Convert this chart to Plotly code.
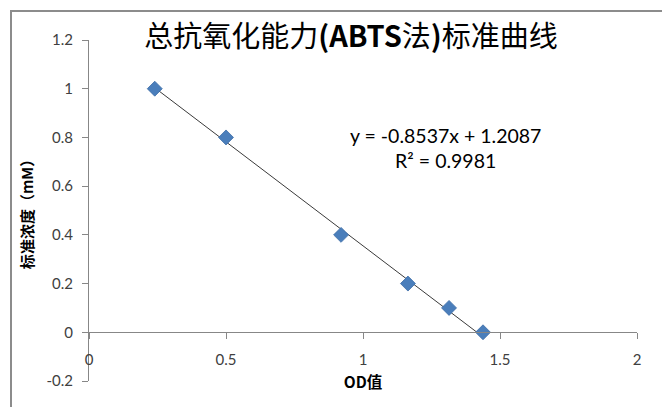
import numpy as np
import plotly.graph_objects as go

# ---- data ----
od_values = [0.24, 0.50, 0.92, 1.164, 1.314, 1.438]
concentration = [1.0, 0.8, 0.4, 0.2, 0.1, 0.0]
slope = -0.8537
intercept = 1.2087
r_squared = 0.9981

x_tickvals = [0, 0.5, 1, 1.5, 2]
x_ticktext = ["0", "0.5", "1", "1.5", "2"]
y_tickvals = [-0.2, 0, 0.2, 0.4, 0.6, 0.8, 1.0, 1.2]
y_ticktext = ["-0.2", "0", "0.2", "0.4", "0.6", "0.8", "1", "1.2"]

title_text = "总抗氧化能力<b>(ABTS</b>法<b>)</b>标准曲线"
x_title = "OD值"
y_title = "标准浓度（mM）"

x_range = [0, 2]
y_range = [-0.2, 1.2]

# trendline over data extent
tx = np.array([min(od_values), max(od_values)])
ty = slope * tx + intercept

# page body has an 8px margin, so the figure is drawn offset by 8px
OFF = 8
W, H = 670 - OFF, 407 - OFF
ml, mt = 89 - OFF, 40 - OFF
mr, mb = W - (637 - OFF), H - (381 - OFF)
pw, ph = W - ml - mr, H - mt - mb

fig = go.Figure()
fig.add_trace(go.Scatter(
    x=tx, y=ty, mode="lines",
    line=dict(color="#3a3a3a", width=1),
    hoverinfo="skip", showlegend=False,
))
fig.add_trace(go.Scatter(
    x=od_values, y=concentration, mode="markers",
    marker=dict(symbol="diamond", size=11.5, color="#4A7EBB",
                line=dict(color="#3C6CA6", width=0.8)),
    showlegend=False,
))

axis_font = dict(family="Lato, 'Noto Sans', sans-serif", size=15, color="#404040")
axis_gray = "#878787"
cjk = "'Noto Sans CJK SC', sans-serif"

fig.update_layout(
    width=W, height=H,
    margin=dict(l=ml, r=mr, t=mt, b=mb, pad=0, autoexpand=False),
    paper_bgcolor="white", plot_bgcolor="white",
    title=dict(text=title_text, x=(351 - OFF) / W, xref="container", xanchor="center",
               y=1 - (37 - OFF) / H, yref="container", yanchor="middle",
               font=dict(family=cjk, size=29, color="#000000")),
    xaxis=dict(
        range=x_range, tickvals=x_tickvals, ticktext=x_ticktext,
        showgrid=False, zeroline=False, showline=True, linecolor=axis_gray, linewidth=1,
        ticks="outside", ticklen=6, tickcolor=axis_gray, tickwidth=1,
        tickfont=axis_font, ticklabelstandoff=8,
        anchor="free", position=(0 - y_range[0]) / (y_range[1] - y_range[0]),
        title=dict(text=f"<b>{x_title}</b>", standoff=9,
                   font=dict(family=cjk, size=15.5, color="#000000")),
    ),
    yaxis=dict(
        range=y_range, tickvals=y_tickvals, ticktext=y_ticktext,
        showgrid=False, zeroline=False, showline=True, linecolor=axis_gray, linewidth=1,
        ticks="outside", ticklen=6, tickcolor=axis_gray, tickwidth=1,
        tickfont=axis_font, ticklabelstandoff=6,
        domain=[0, 1],
        title=dict(text=f"<b>{y_title}</b>", standoff=9,
                   font=dict(family=cjk, size=15, color="#000000")),
    ),
    annotations=[
        dict(text=f"y = {slope}x + {intercept}<br>R² = {r_squared}",
             x=1.30, y=0.755, xref="x", yref="y", xanchor="center", yanchor="middle",
             showarrow=False, align="center",
             font=dict(family="Lato, 'Noto Sans', sans-serif", size=19.5, color="#000000")),
    ],
    shapes=[
        dict(type="rect", xref="paper", yref="paper",
             x0=(11 - OFF - ml) / pw, x1=1.3,
             y0=-0.3, y1=(H - mb - (11 - OFF)) / ph,
             line=dict(color="#8c8c8c", width=2), fillcolor="rgba(0,0,0,0)", layer="below"),
    ],
)

fig.write_html("out.html")
